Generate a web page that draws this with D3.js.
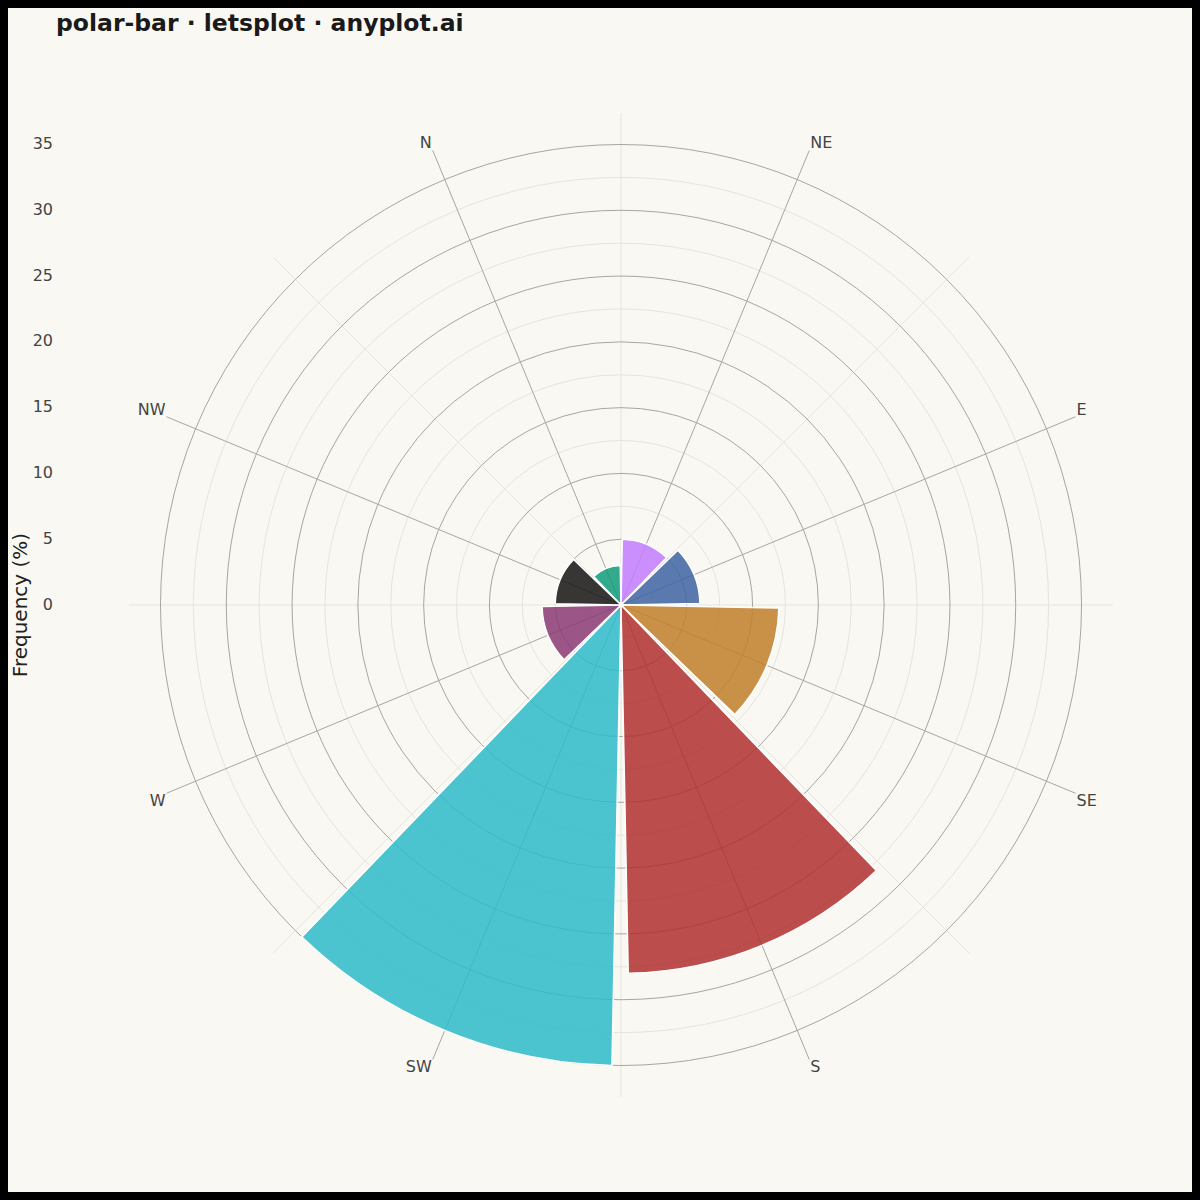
<!DOCTYPE html>
<html>
<head>
<meta charset="utf-8">
<script src="https://cdn.jsdelivr.net/npm/d3@7"></script>
<style>
html,body{margin:0;padding:0;background:#000;}
svg{display:block;font-family:"DejaVu Sans",sans-serif;}
</style>
</head>
<body>
<svg id="chart" width="1200" height="1200"></svg>
<script>
const directions = ["N", "NE", "E", "SE", "S", "SW", "W", "NW"];
const frequency = [3, 5, 6, 12, 28, 35, 6, 5];
const colors = ["#0f9c7a", "#c27bff", "#3d63a3", "#bf7f2a", "#af2f2f", "#2bbbca", "#8a3a74", "#141414"];
const radialTicks = [0, 5, 10, 15, 20, 25, 30, 35];
const minorTicks = [2.5, 7.5, 12.5, 17.5, 22.5, 27.5, 32.5];

const svg = d3.select("#chart");
const W = 1200, H = 1200;
const cx = 621, cy = 605;
const bg = "#FAF8F2";

svg.append("rect").attr("x", 0).attr("y", 0).attr("width", W).attr("height", H).attr("fill", "#000");
svg.append("rect").attr("x", 8).attr("y", 8).attr("width", W - 16).attr("height", H - 16).attr("fill", bg);

const r = d3.scaleLinear().domain([0, 35]).range([0, 460.5]);
const rMax = 492;
const angle = d3.scaleBand().domain(directions)
  .range([-Math.PI / 4, 7 * Math.PI / 4]).paddingInner(0.05).paddingOuter(0.025);
const step = angle.step();
const center = d => angle(d) + angle.bandwidth() / 2;

const g = svg.append("g").attr("transform", `translate(${cx},${cy})`);

// minor circles
g.selectAll("circle.minor").data(minorTicks).join("circle")
  .attr("r", d => r(d)).attr("fill", "none").attr("stroke", "#e6e4de").attr("stroke-width", 1);
// minor spokes at band boundaries
g.selectAll("line.minor").data(directions).join("line")
  .attr("x1", 0).attr("y1", 0)
  .attr("x2", d => rMax * Math.sin(center(d) + step / 2))
  .attr("y2", d => -rMax * Math.cos(center(d) + step / 2))
  .attr("stroke", "#e6e4de").attr("stroke-width", 1);
// major circles
g.selectAll("circle.major").data(radialTicks.filter(d => d > 0)).join("circle")
  .attr("r", d => r(d)).attr("fill", "none").attr("stroke", "#a6a6a6").attr("stroke-width", 1);
// major spokes
g.selectAll("line.major").data(directions).join("line")
  .attr("x1", 0).attr("y1", 0)
  .attr("x2", d => rMax * Math.sin(center(d)))
  .attr("y2", d => -rMax * Math.cos(center(d)))
  .attr("stroke", "#a6a6a6").attr("stroke-width", 1);

// bars
const arc = d3.arc();
g.selectAll("path.bar").data(directions).join("path")
  .attr("d", (d, i) => arc({
    innerRadius: 0,
    outerRadius: r(frequency[i]),
    startAngle: angle(d),
    endAngle: angle(d) + angle.bandwidth()
  }))
  .attr("fill", (d, i) => colors[i])
  .attr("fill-opacity", 0.85)
  .attr("stroke", "#ffffff").attr("stroke-width", 1.5).attr("stroke-linejoin", "miter");

// direction labels placed at spoke ends
g.selectAll("text.dir").data(directions).join("text")
  .attr("x", d => rMax * Math.sin(center(d)) + (Math.sin(center(d)) > 0 ? 1 : -1))
  .attr("y", d => -rMax * Math.cos(center(d)) + (Math.cos(center(d)) > 0 ? -7.5 : 7))
  .attr("text-anchor", d => Math.sin(center(d)) > 0 ? "start" : "end")
  .attr("dominant-baseline", "central")
  .attr("font-size", 16).attr("fill", "#444")
  .text(d => d);

// radial axis labels
svg.selectAll("text.rt").data(radialTicks).join("text")
  .attr("x", 53).attr("y", d => cy - r(d) - 1)
  .attr("text-anchor", "end").attr("dominant-baseline", "central")
  .attr("font-size", 16).attr("fill", "#444")
  .text(d => d);

svg.append("text")
  .attr("transform", `translate(27,${cy}) rotate(-90)`)
  .attr("text-anchor", "middle")
  .attr("font-size", 20).attr("fill", "#222")
  .text("Frequency (%)");

svg.append("text")
  .attr("x", 56).attr("y", 31)
  .attr("font-size", 23.5).attr("font-weight", "bold").attr("fill", "#1a1a1a")
  .text("polar-bar · letsplot · anyplot.ai");
</script>
</body>
</html>
